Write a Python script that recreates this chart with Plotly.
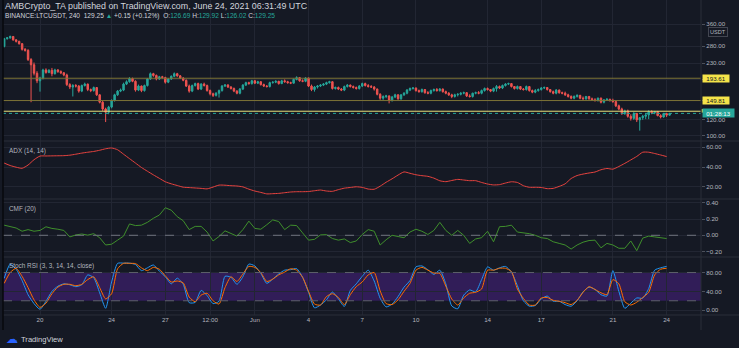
import math
import pandas as pd
import plotly.graph_objects as go

W, H = 739, 348

# ---------------- BINANCE:LTCUSDT, 4h candles from 2021-05-18 00:00 UTC ----------------
open_ = [
    279, 305, 308, 313, 301, 296,
    288, 270, 267, 240, 226, 205,
    188, 194, 213, 207, 212, 204,
    213, 209, 206, 201, 180, 175,
    178, 177, 167, 178, 181, 170,
    168, 174, 160, 147, 136, 131,
    139, 150, 160, 167, 169, 181,
    186, 193, 187, 169, 177, 168,
    178, 192, 204, 200, 192, 197,
    195, 185, 192, 198, 204, 199,
    194, 189, 177, 167, 178, 182,
    171, 181, 178, 168, 162, 159,
    163, 168, 177, 179, 175, 172,
    167, 163, 171, 179, 184, 182,
    188, 183, 186, 180, 177, 176,
    184, 185, 187, 182, 188, 186,
    184, 183, 191, 195, 188, 187,
    194, 177, 170, 175, 177, 179,
    181, 184, 186, 172, 174, 171,
    169, 176, 179, 176, 174, 172,
    177, 182, 178, 176, 175, 171,
    161, 154, 157, 158, 150, 156,
    160, 153, 160, 163, 169, 172,
    173, 168, 166, 170, 164, 163,
    168, 170, 168, 171, 166, 163,
    160, 157, 160, 161, 163, 164,
    158, 157, 163, 164, 163, 168,
    172, 170, 167, 172, 176, 173,
    178, 181, 182, 176, 172, 176,
    171, 170, 176, 168, 165, 168,
    170, 173, 174, 170, 166, 163,
    169, 164, 163, 160, 157, 154,
    157, 159, 154, 153, 157, 153,
    151, 150, 154, 147, 151, 152,
    150, 148, 141, 136, 129, 133,
    125, 122, 129, 120, 123, 125,
    127, 132, 130, 132, 126, 124,
    129, 126.69,
]
high = [
    308, 311, 316, 314, 303, 298,
    290, 274, 270, 244, 232, 210,
    197, 216, 217, 215, 218, 216,
    215, 212, 208, 204, 183, 181,
    181, 179, 180, 184, 182, 172,
    176, 175, 161, 149, 138, 141,
    152, 162, 169, 172, 184, 189,
    196, 195, 189, 180, 178, 180,
    194, 207, 206, 202, 199, 199,
    197, 194, 200, 207, 206, 201,
    196, 191, 180, 180, 184, 184,
    183, 184, 180, 170, 164, 165,
    170, 179, 181, 181, 177, 174,
    169, 173, 181, 186, 186, 190,
    190, 188, 187, 182, 179, 186,
    187, 189, 188, 190, 191, 188,
    186, 193, 198, 196, 191, 196,
    195, 180, 177, 179, 181, 183,
    186, 188, 187, 176, 176, 173,
    178, 181, 180, 178, 176, 179,
    184, 184, 181, 179, 177, 172,
    163, 159, 160, 159, 158, 162,
    161, 161, 165, 171, 174, 175,
    174, 170, 172, 171, 167, 170,
    172, 173, 173, 172, 168, 165,
    162, 162, 163, 165, 166, 165,
    161, 164, 166, 167, 170, 174,
    174, 171, 174, 179, 178, 180,
    183, 184, 183, 177, 178, 177,
    173, 178, 177, 170, 171, 172,
    175, 176, 175, 171, 168, 171,
    170, 166, 166, 162, 159, 159,
    161, 160, 157, 158, 158, 155,
    154, 155, 155, 152, 154, 153,
    153, 150, 143, 138, 135, 135,
    128, 131, 130, 124, 127, 129,
    134, 134, 133, 133, 128, 130,
    130, 129.92,
]
low = [
    276, 302, 305, 298, 292, 285,
    266, 263, 236, 147, 200, 183,
    166, 191, 204, 205, 198, 202,
    206, 203, 198, 177, 171, 157,
    174, 164, 165, 176, 167, 165,
    166, 158, 145, 133, 117, 128,
    137, 148, 158, 165, 167, 179,
    184, 185, 166, 167, 165, 166,
    176, 190, 197, 189, 190, 193,
    182, 183, 190, 196, 197, 192,
    187, 175, 164, 165, 176, 169,
    169, 176, 166, 159, 156, 157,
    155, 166, 175, 173, 170, 165,
    161, 161, 169, 177, 180, 180,
    181, 181, 178, 175, 174, 174,
    182, 183, 180, 181, 184, 182,
    181, 182, 189, 186, 185, 185,
    175, 167, 166, 172, 175, 177,
    179, 182, 170, 170, 169, 167,
    167, 174, 174, 172, 170, 170,
    175, 176, 174, 173, 168, 159,
    151, 151, 154, 145, 148, 154,
    151, 151, 158, 161, 167, 170,
    166, 164, 164, 162, 161, 161,
    166, 166, 166, 164, 161, 158,
    154, 155, 157, 159, 161, 156,
    155, 155, 161, 161, 161, 166,
    168, 165, 165, 166, 171, 171,
    176, 179, 174, 170, 170, 169,
    168, 168, 166, 163, 163, 166,
    168, 171, 168, 164, 161, 161,
    162, 161, 158, 155, 152, 152,
    155, 152, 151, 151, 151, 149,
    148, 148, 145, 145, 149, 148,
    146, 139, 134, 127, 127, 123,
    119, 120, 117, 106, 120, 121,
    121, 128, 128, 125, 122, 123,
    124, 126.02,
]
close = [
    305, 308, 313, 301, 296, 288,
    270, 267, 240, 226, 205, 188,
    194, 213, 207, 212, 204, 213,
    209, 206, 201, 180, 175, 178,
    177, 167, 178, 181, 170, 168,
    174, 160, 147, 136, 131, 139,
    150, 160, 167, 169, 181, 186,
    193, 187, 169, 177, 168, 178,
    192, 204, 200, 192, 197, 195,
    185, 192, 198, 204, 199, 194,
    189, 177, 167, 178, 182, 171,
    181, 178, 168, 162, 159, 163,
    168, 177, 179, 175, 172, 167,
    163, 171, 179, 184, 182, 188,
    183, 186, 180, 177, 176, 184,
    185, 187, 182, 188, 186, 184,
    183, 191, 195, 188, 187, 194,
    177, 170, 175, 177, 179, 181,
    184, 186, 172, 174, 171, 169,
    176, 179, 176, 174, 172, 177,
    182, 178, 176, 175, 171, 161,
    154, 157, 158, 150, 156, 160,
    153, 160, 163, 169, 172, 173,
    168, 166, 170, 164, 163, 168,
    170, 168, 171, 166, 163, 160,
    157, 160, 161, 163, 164, 158,
    157, 163, 164, 163, 168, 172,
    170, 167, 172, 176, 173, 178,
    181, 182, 176, 172, 176, 171,
    170, 176, 168, 165, 168, 170,
    173, 174, 170, 166, 163, 169,
    164, 163, 160, 157, 154, 157,
    159, 154, 153, 157, 153, 151,
    150, 154, 147, 151, 152, 150,
    148, 141, 136, 129, 133, 125,
    122, 129, 120, 123, 125, 127,
    132, 130, 132, 126, 124, 129,
    126.7, 129.25,
]

# ---------------- indicators, one value per 8h (every second candle) ----------------
adx = [
    44, 41.5, 39.8, 38.7, 42, 47.4, 51.1, 51.2, 51.3, 51.4,
    51.5, 52, 53, 54.1, 55, 55.8, 57, 58.5, 59.3, 57.5,
    53, 48.5, 44, 39.5, 35.7, 32, 28.5, 25, 22.9, 21.2,
    19.5, 19.1, 18.7, 18.3, 17.8, 19.6, 21.6, 21.5, 21, 20.7,
    19.8, 17.5, 15.6, 14.2, 12.7, 12.9, 13.2, 13.9, 14.6, 14.9,
    14.9, 15.1, 15.9, 16.6, 15.6, 15.3, 17, 18.5, 19.2, 19.9,
    19.3, 17.6, 17.4, 20.5, 24.5, 28, 31.8, 35, 33.6, 32.1,
    31.2, 30.5, 28.7, 26, 25.1, 26.3, 27.4, 26.8, 26.1, 26.1,
    24.3, 22.7, 21.8, 22.1, 23.7, 25, 24.3, 21, 19.4, 19.4,
    19.2, 18, 18.3, 20.3, 22.9, 28.3, 31.3, 32.8, 33.9, 34.9,
    37.2, 38.5, 37.8, 40.5, 43.7, 47.2, 50.7, 55, 55, 53.7,
    52.2, 50.6,
]
cmf = [
    0.125, 0.106, 0.09, 0.05, 0.07, 0.05, 0.06, 0.105, 0.085, 0.075,
    0.06, -0.02, 0.004, 0.016, 0.002, 0.02, -0.03, -0.12, -0.11, -0.06,
    -0.01, 0.14, 0.12, 0.125, 0.16, 0.21, 0.25, 0.34, 0.31, 0.23,
    0.18, 0.07, 0.11, 0.11, 0.04, -0.07, -0.015, 0.055, 0.025, -0.01,
    0.07, 0.175, 0.085, 0.075, 0.13, 0.19, 0.17, 0.07, 0.125, 0.12,
    0.03, -0.06, -0.05, 0.005, 0.008, -0.04, -0.06, -0.045, -0.09, -0.07,
    0.01, 0.07, 0.05, -0.12, -0.055, 0.0, -0.015, -0.03, 0.04, 0.075,
    0.05, 0.01, 0.06, 0.16, 0.06, 0.0, 0.06, 0.0, -0.1, -0.045,
    -0.03, 0.05, -0.08, 0.106, 0.11, 0.125, 0.04, 0.03, 0.02, 0.0,
    -0.03, -0.04, -0.08, -0.1, -0.12, -0.17, -0.12, -0.085, -0.065, -0.06,
    -0.155, -0.1, -0.12, -0.16, -0.16, -0.07, -0.19, -0.035, -0.01, -0.02,
    -0.03, -0.04,
]
stoch_k = [
    67.6, 97.4, 87, 63, 33, 14, 2, 19, 40, 51,
    56, 54, 50, 54, 75, 69, 37, 4, 60, 99.5,
    100, 100, 97, 84, 90, 96, 83, 71, 56, 68,
    55, 16, 16.5, 42, 31, 14, 19, 72, 70, 55,
    71, 98, 94, 78, 57, 66, 77, 85, 86, 88.5,
    70, 38, 5, 11, 22, 38.5, 24, 8, 42, 56,
    72, 85, 62, 25.5, 7, 13, 29, 49, 63, 92,
    94, 86, 76, 85, 56, 9, 3, 32, 43, 39,
    65, 92, 85, 90, 93, 81, 52, 20, 8.5, 10,
    24, 30, 19, 19, 12, 8.5, 20, 39, 49, 44,
    33, 30, 84, 40, 4, 15, 26, 25.5, 46, 85,
    90, 93,
]
stoch_d = [
    57, 80, 89, 72, 48, 22, 6, 15, 35, 49,
    55, 55, 52, 55, 65, 71, 48, 24, 35, 88,
    99.5, 99.5, 99, 90, 84, 91, 87, 73, 60, 62,
    58, 28, 18, 32, 36, 20, 13, 48, 71, 61,
    77, 93, 91, 80, 61, 66, 75, 81, 88, 85,
    70, 40, 13, 11, 29, 35, 27, 12, 33, 50,
    60, 75, 80, 41, 14, 12, 22, 40, 57, 85,
    91, 85, 79, 78, 51, 24, 11, 26, 36, 38,
    45, 85, 85, 89, 89, 82, 45, 25, 11, 11,
    26, 27, 21, 19, 16, 12, 21, 38, 50, 44,
    37, 33, 65, 56, 18, 11, 17, 27, 38, 75,
    87, 89,
]

# horizontal levels drawn on the price pane
levels_main = [193.61, 149.81]
level_near = 132.5

price_ticks = [100, 120, 150, 190, 230, 280, 360]
adx_ticks = [20, 40, 60]
cmf_ticks = [-0.2, 0.0, 0.2, 0.4]
stoch_ticks = [0, 40, 80]

date_ticks = ["2021-05-20", "2021-05-24", "2021-05-27", "2021-05-29 12:00", "2021-06-01",
              "2021-06-04", "2021-06-07", "2021-06-10", "2021-06-14", "2021-06-17",
              "2021-06-21", "2021-06-24"]
date_labels = ["20", "24", "27", "12:00", "Jun", "4", "7", "10", "14", "17", "21", "24"]

# ---------------- styling ----------------
BG = "#151924"
GRID = "#222633"
SEP = "#2a2e39"
TXT = "#b2b5be"
UP = "#26a69a"
DOWN = "#ef5350"
TAG_YELLOW = "#f5e44a"
FONT = "Liberation Sans, Arial, sans-serif"


def px_x(p):
    return p / W


def px_y(p):
    return 1 - p / H


t = pd.date_range("2021-05-18 00:00", periods=len(close), freq="4h")
ti = t[::2]

fig = go.Figure()
fig.add_trace(go.Candlestick(
    x=t, open=open_, high=high, low=low, close=close,
    increasing=dict(line=dict(color=UP, width=1), fillcolor=UP),
    decreasing=dict(line=dict(color=DOWN, width=1), fillcolor=DOWN),
    whiskerwidth=0, xaxis="x", yaxis="y", hoverinfo="skip", showlegend=False))
fig.add_trace(go.Scatter(x=ti, y=adx, mode="lines", xaxis="x2", yaxis="y2",
                         line=dict(color="#e8433f", width=1, shape="spline", smoothing=0.6),
                         hoverinfo="skip", showlegend=False))
fig.add_trace(go.Scatter(x=ti, y=cmf, mode="lines", xaxis="x3", yaxis="y3",
                         line=dict(color="#3f8f2c", width=1),
                         hoverinfo="skip", showlegend=False))
fig.add_trace(go.Scatter(x=ti, y=stoch_k, mode="lines", xaxis="x4", yaxis="y4",
                         line=dict(color="#2196f3", width=1, shape="spline", smoothing=0.6),
                         hoverinfo="skip", showlegend=False))
fig.add_trace(go.Scatter(x=ti, y=stoch_d, mode="lines", xaxis="x4", yaxis="y4",
                         line=dict(color="#ff6d00", width=1, shape="spline", smoothing=0.6),
                         hoverinfo="skip", showlegend=False))

x_range = ["2021-05-17 22:24", "2021-06-25 22:07"]
x_dom = [px_x(3), px_x(701)]
tickfont = dict(family=FONT, size=6.2, color=TXT)


def xaxis(anchor, labels):
    return dict(domain=x_dom, range=x_range, type="date", anchor=anchor,
                tickvals=date_ticks, ticktext=date_labels, showticklabels=labels,
                ticks="", showgrid=True, gridcolor=GRID, gridwidth=1, zeroline=False,
                showline=False, tickfont=tickfont, rangeslider=dict(visible=False),
                fixedrange=True)


def yaxis(anchor, dom, rng, vals, text, **kw):
    d = dict(domain=dom, range=rng, anchor=anchor, side="right", tickvals=vals,
             ticktext=text, ticks="outside", ticklen=3, tickcolor="#4c505b",
             showgrid=True, gridcolor=GRID, gridwidth=1, zeroline=False, showline=False,
             tickfont=tickfont, fixedrange=True)
    d.update(kw)
    return d


fig.update_layout(
    width=W, height=H, margin=dict(l=0, r=0, t=0, b=0),
    paper_bgcolor=BG, plot_bgcolor=BG, showlegend=False,
    font=dict(family=FONT, color=TXT),
    xaxis=xaxis("y", False), xaxis2=xaxis("y2", False),
    xaxis3=xaxis("y3", False), xaxis4=xaxis("y4", True),
    yaxis=yaxis("x", [px_y(141), 1.0], [math.log10(94.1), math.log10(476)],
                price_ticks, [f"{v:.2f}" for v in price_ticks], type="log"),
    yaxis2=yaxis("x2", [px_y(199), px_y(141)], [7.5, 66.4], adx_ticks,
                 [f"{v:.2f}" for v in adx_ticks]),
    yaxis3=yaxis("x3", [px_y(257), px_y(199)], [-0.268, 0.448], cmf_ticks,
                 [f"{v:.2f}".replace("-", "\u2212") for v in cmf_ticks]),
    yaxis4=yaxis("x4", [px_y(315), px_y(257)], [-10.2, 113], stoch_ticks,
                 [f"{v:.2f}" for v in stoch_ticks]),
)

shapes = []
# stoch RSI band
shapes.append(dict(type="rect", xref="x4 domain", yref="y4", x0=0, x1=1, y0=20, y1=80,
                   fillcolor="#311d58", line=dict(width=0), layer="below"))
for lv in (80, 20):
    shapes.append(dict(type="line", xref="x4 domain", yref="y4", x0=0, x1=1, y0=lv, y1=lv,
                       line=dict(color="#5d606b", width=1, dash="dash")))
# CMF zero line
shapes.append(dict(type="line", xref="x3 domain", yref="y3", x0=0, x1=1, y0=0, y1=0,
                   line=dict(color="#6f737e", width=1, dash="dash")))
# price levels
for lv in levels_main:
    shapes.append(dict(type="line", xref="x domain", yref="y", x0=0, x1=1, y0=lv, y1=lv,
                       line=dict(color="#7d7436", width=1)))
shapes.append(dict(type="line", xref="x domain", yref="y", x0=0, x1=1, y0=level_near,
                   y1=level_near, line=dict(color="#e9de78", width=1)))
shapes.append(dict(type="line", xref="x domain", yref="y", x0=0, x1=1, y0=close[-1],
                   y1=close[-1], line=dict(color=UP, width=1, dash="dot")))
# tag of the near level, mostly hidden behind the countdown tag
shapes.append(dict(type="rect", xref="paper", yref="y", x0=px_x(701.5), x1=px_x(728.5),
                   y0=level_near * 0.985, y1=level_near * 1.025, fillcolor=TAG_YELLOW,
                   line=dict(width=0), layer="above"))
# pane separators, bottom axis line, borders
for yy in (141, 199, 257, 315):
    shapes.append(dict(type="line", xref="paper", yref="paper", x0=px_x(3), x1=1,
                       y0=px_y(yy), y1=px_y(yy), line=dict(color=SEP, width=1)))
shapes.append(dict(type="line", xref="paper", yref="paper", x0=px_x(701), x1=px_x(701),
                   y0=px_y(330), y1=1, line=dict(color=SEP, width=1)))
shapes.append(dict(type="line", xref="paper", yref="paper", x0=px_x(3), x1=px_x(3),
                   y0=px_y(330), y1=1, line=dict(color="#07090d", width=1.5)))
fig.update_layout(shapes=shapes)

ann = []
ann.append(dict(xref="paper", yref="paper", x=px_x(3), y=px_y(6), xanchor="left",
                yanchor="middle", showarrow=False,
                text="AMBCrypto_TA published on TradingView.com, June 24, 2021 06:31:49 UTC",
                font=dict(family=FONT, size=8.9, color="#d1d4dc")))
tealspan = '<span style="color:#26a69a">{}</span>'
hdr2 = ("BINANCE:LTCUSDT, 240  {:.2f} ".format(close[-1]) + tealspan.format("\u25b2")
        + " +0.15 (+0.12%)  O:" + tealspan.format(f"{open_[-1]:.2f}")
        + " H:" + tealspan.format(f"{high[-1]:.2f}")
        + " L:" + tealspan.format(f"{low[-1]:.2f}")
        + " C:" + tealspan.format(f"{close[-1]:.2f}"))
ann.append(dict(xref="paper", yref="paper", x=px_x(3), y=px_y(16), xanchor="left",
                yanchor="middle", showarrow=False, text=hdr2,
                font=dict(family=FONT, size=6.6, color="#d1d4dc")))
for label, yy in (("ADX (14, 14)", 151), ("CMF (20)", 209),
                  ("Stoch RSI (3, 3, 14, 14, close)", 266)):
    ann.append(dict(xref="paper", yref="paper", x=px_x(7), y=px_y(yy), xanchor="left",
                    yanchor="middle", showarrow=False, text=label,
                    font=dict(family=FONT, size=6.4, color=TXT)))

# right-axis value tags
for lv in levels_main:
    ann.append(dict(xref="paper", yref="y", x=px_x(701.5), y=math.log10(lv), xanchor="left",
                    yanchor="middle", showarrow=False, text=f"{lv:.2f}", width=26, height=7,
                    borderpad=0, bgcolor=TAG_YELLOW,
                    font=dict(family=FONT, size=6.2, color="#131722")))
ann.append(dict(xref="paper", yref="y", x=px_x(701.5), y=math.log10(close[-1]),
                xanchor="left", yanchor="middle", showarrow=False, text="01:28:13",
                width=31, height=8, borderpad=0, bgcolor="#26a69a",
                font=dict(family=FONT, size=6.2, color="#ffffff")))
ann.append(dict(xref="paper", yref="paper", x=px_x(717.5), y=px_y(32.5), xanchor="center",
                yanchor="middle", showarrow=False, text="USDT", bordercolor="#434651",
                borderwidth=1, borderpad=1, font=dict(family=FONT, size=5.6, color=TXT)))
# logo
ann.append(dict(xref="paper", yref="paper", x=px_x(4), y=px_y(339), xanchor="left",
                yanchor="middle", showarrow=False, text="\u2601",
                font=dict(family="DejaVu Sans", size=12, color="#2962ff")))
ann.append(dict(xref="paper", yref="paper", x=px_x(19), y=px_y(339), xanchor="left",
                yanchor="middle", showarrow=False, text="TradingView",
                font=dict(family=FONT, size=7.6, color="#d1d4dc")))
fig.update_layout(annotations=ann)

fig.write_html("out.html", config={"displayModeBar": False, "staticPlot": True})
